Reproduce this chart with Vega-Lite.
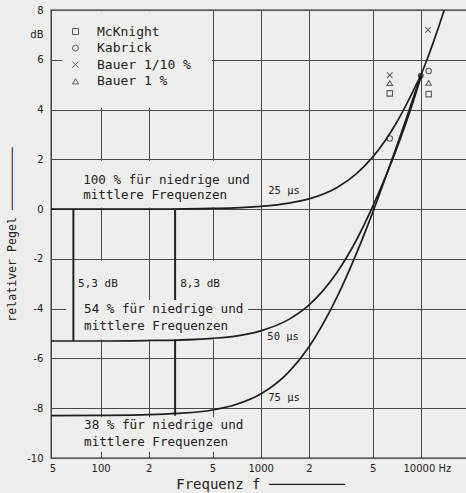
{
  "$schema": "https://vega.github.io/schema/vega-lite/v6.json",
  "width": 418,
  "height": 448,
  "autosize": "none",
  "padding": {"left": 51, "top": 10, "right": 0, "bottom": 35},
  "background": "#eeeeec",
  "config": {"view": {"stroke": "#2a2a2a", "strokeWidth": 1.3}, "font": "DejaVu Sans"},
  "datasets": {
    "one": [{"k": 1}],
    "curves": [
      {"tau": "25 µs", "f": 49, "dB": 0}, {"tau": "25 µs", "f": 100, "dB": 0}, {"tau": "25 µs", "f": 200, "dB": 0},
      {"tau": "25 µs", "f": 500, "dB": 0.03}, {"tau": "25 µs", "f": 700, "dB": 0.05}, {"tau": "25 µs", "f": 1000, "dB": 0.11},
      {"tau": "25 µs", "f": 1500, "dB": 0.24}, {"tau": "25 µs", "f": 2000, "dB": 0.41}, {"tau": "25 µs", "f": 3000, "dB": 0.87},
      {"tau": "25 µs", "f": 4000, "dB": 1.45}, {"tau": "25 µs", "f": 5000, "dB": 2.09}, {"tau": "25 µs", "f": 6000, "dB": 2.76},
      {"tau": "25 µs", "f": 7000, "dB": 3.44}, {"tau": "25 µs", "f": 8000, "dB": 4.12}, {"tau": "25 µs", "f": 9000, "dB": 4.77},
      {"tau": "25 µs", "f": 10000, "dB": 5.38}, {"tau": "25 µs", "f": 11000, "dB": 6.05}, {"tau": "25 µs", "f": 12000, "dB": 6.72},
      {"tau": "25 µs", "f": 13000, "dB": 7.37}, {"tau": "25 µs", "f": 14000, "dB": 8.0},
      {"tau": "50 µs", "f": 49, "dB": -5.3}, {"tau": "50 µs", "f": 100, "dB": -5.3}, {"tau": "50 µs", "f": 200, "dB": -5.28},
      {"tau": "50 µs", "f": 300, "dB": -5.26}, {"tau": "50 µs", "f": 500, "dB": -5.19}, {"tau": "50 µs", "f": 700, "dB": -5.1},
      {"tau": "50 µs", "f": 1000, "dB": -4.89}, {"tau": "50 µs", "f": 1500, "dB": -4.43}, {"tau": "50 µs", "f": 2000, "dB": -3.86},
      {"tau": "50 µs", "f": 3000, "dB": -2.54}, {"tau": "50 µs", "f": 4000, "dB": -1.19}, {"tau": "50 µs", "f": 5000, "dB": 0.1},
      {"tau": "50 µs", "f": 6000, "dB": 1.28}, {"tau": "50 µs", "f": 7000, "dB": 2.36}, {"tau": "50 µs", "f": 8000, "dB": 3.38},
      {"tau": "50 µs", "f": 9000, "dB": 4.35}, {"tau": "50 µs", "f": 10000, "dB": 5.3},
      {"tau": "75 µs", "f": 49, "dB": -8.3}, {"tau": "75 µs", "f": 100, "dB": -8.29}, {"tau": "75 µs", "f": 200, "dB": -8.26},
      {"tau": "75 µs", "f": 300, "dB": -8.21}, {"tau": "75 µs", "f": 500, "dB": -8.07}, {"tau": "75 µs", "f": 700, "dB": -7.85},
      {"tau": "75 µs", "f": 1000, "dB": -7.43}, {"tau": "75 µs", "f": 1500, "dB": -6.54}, {"tau": "75 µs", "f": 2000, "dB": -5.54},
      {"tau": "75 µs", "f": 3000, "dB": -3.53}, {"tau": "75 µs", "f": 4000, "dB": -1.72}, {"tau": "75 µs", "f": 5000, "dB": -0.14},
      {"tau": "75 µs", "f": 6000, "dB": 1.24}, {"tau": "75 µs", "f": 7000, "dB": 2.45}, {"tau": "75 µs", "f": 8000, "dB": 3.52},
      {"tau": "75 µs", "f": 9000, "dB": 4.49}, {"tau": "75 µs", "f": 10000, "dB": 5.36}
    ],
    "measurements": [
      {"source": "McKnight", "f": 6400, "dB": 4.65}, {"source": "McKnight", "f": 11200, "dB": 4.62},
      {"source": "Kabrick", "f": 6400, "dB": 2.84}, {"source": "Kabrick", "f": 11200, "dB": 5.55},
      {"source": "Bauer 1/10 %", "f": 6400, "dB": 5.38}, {"source": "Bauer 1/10 %", "f": 11100, "dB": 7.2},
      {"source": "Bauer 1 %", "f": 6400, "dB": 5.06}, {"source": "Bauer 1 %", "f": 11200, "dB": 5.07}
    ]
  },
  "data": {"name": "one"},
  "layer": [
    {"data": {"name": "curves"},
     "mark": {"type": "line", "interpolate": "monotone", "color": "#4a4a4a", "strokeWidth": 0, "opacity": 0},
     "encoding": {
      "x": {
        "field": "f", "type": "quantitative",
        "scale": {"type": "log", "domain": [49, 20000], "nice": false},
        "axis": {
          "values": [50, 100, 200, 500, 1000, 2000, 5000, 10000, 20000],
          "labelExpr": "datum.value==50||datum.value==500||datum.value==5000?'5':(datum.value==200||datum.value==2000||datum.value==20000?'2':(datum.value==10000?'10000 Hz':(datum.value==100?'100':'1000')))",
          "labelOverlap": false, "labelFlush": false, "ticks": false, "domain": false,
          "grid": true, "gridWidth": 1,
          "gridColor": {"condition": {"test": "datum.value==50||datum.value==20000", "value": "transparent"}, "value": "#4a4a4a"},
          "labelOffset": {"condition": {"test": "datum.value==10000", "value": 6}, "value": 0},
          "labelFont": "DejaVu Sans", "labelFontSize": 10, "labelColor": "#222", "labelPadding": 5,
          "title": "Frequenz f ─────────", "titleFont": "DejaVu Sans Mono", "titleFontSize": 14,
          "titleFontWeight": "normal", "titleColor": "#222", "titlePadding": 4
        }
      },
      "y": {
        "field": "dB", "type": "quantitative",
        "scale": {"domain": [-10, 8], "nice": false, "zero": false},
        "axis": {
          "values": [-10, -8, -6, -4, -2, 0, 2, 4, 6, 7, 8],
          "labelExpr": "datum.value==7?'dB':(datum.value<0?'-'+(-datum.value):''+datum.value)",
          "labelOverlap": false, "labelFlush": false, "ticks": false, "domain": false,
          "grid": true, "gridWidth": 1,
          "gridColor": {"condition": {"test": "datum.value==7||datum.value==8||datum.value==-10", "value": "transparent"}, "value": "#4a4a4a"},
          "labelFont": "DejaVu Sans", "labelFontSize": 10, "labelColor": "#222", "labelPadding": 8,
          "title": "relativer Pegel ─────────", "titleFont": "DejaVu Sans Mono", "titleFontSize": 11.6,
          "titleFontWeight": "normal", "titleColor": "#222", "titlePadding": 9
        }
      },
      "detail": {"field": "tau", "type": "nominal"}
     }},
    {"mark": {"type": "rule", "strokeWidth": 2, "color": "#222"},
     "encoding": {"x": {"datum": 292, "type": "quantitative"}, "y": {"datum": 0, "type": "quantitative"}, "y2": {"datum": -8.3}}},
    {"mark": {"type": "rect", "fill": "#eeeeec"},
     "encoding": {"x": {"datum": 57.5, "type": "quantitative"}, "x2": {"datum": 495}, "y": {"datum": 4.08, "type": "quantitative"}, "y2": {"datum": 7.95}}},
    {"mark": {"type": "rect", "fill": "#eeeeec"},
     "encoding": {"x": {"datum": 51.5, "type": "quantitative"}, "x2": {"datum": 870}, "y": {"datum": 0.06, "type": "quantitative"}, "y2": {"datum": 1.94}}},
    {"mark": {"type": "rect", "fill": "#eeeeec"},
     "encoding": {"x": {"datum": 70.3, "type": "quantitative"}, "x2": {"datum": 136}, "y": {"datum": -2.06, "type": "quantitative"}, "y2": {"datum": -3.72}}},
    {"mark": {"type": "rect", "fill": "#eeeeec"},
     "encoding": {"x": {"datum": 305, "type": "quantitative"}, "x2": {"datum": 591}, "y": {"datum": -2.06, "type": "quantitative"}, "y2": {"datum": -3.72}}},
    {"mark": {"type": "rect", "fill": "#eeeeec"},
     "encoding": {"x": {"datum": 60.8, "type": "quantitative"}, "x2": {"datum": 835}, "y": {"datum": -3.65, "type": "quantitative"}, "y2": {"datum": -5.24}}},
    {"mark": {"type": "rect", "fill": "#eeeeec"},
     "encoding": {"x": {"datum": 51.5, "type": "quantitative"}, "x2": {"datum": 870}, "y": {"datum": -8.36, "type": "quantitative"}, "y2": {"datum": -9.75}}},
    {"mark": {"type": "rule", "strokeWidth": 2, "color": "#222"},
     "encoding": {"x": {"datum": 67.6, "type": "quantitative"}, "y": {"datum": 0, "type": "quantitative"}, "y2": {"datum": -5.3}}},
    {"data": {"name": "curves"},
     "mark": {"type": "line", "interpolate": "monotone", "color": "#1e1e1e", "strokeWidth": 1.7, "clip": true},
     "encoding": {
       "x": {"field": "f", "type": "quantitative"},
       "y": {"field": "dB", "type": "quantitative"},
       "detail": {"field": "tau", "type": "nominal"}}},
    {"data": {"name": "measurements"},
     "mark": {"type": "point", "filled": false, "size": 30, "strokeWidth": 1.1, "color": "#222"},
     "encoding": {
       "x": {"field": "f", "type": "quantitative"},
       "y": {"field": "dB", "type": "quantitative"},
       "shape": {"field": "source", "type": "nominal",
         "scale": {"domain": ["McKnight", "Kabrick", "Bauer 1/10 %", "Bauer 1 %"], "range": ["square", "circle", "M-1,-1L1,1M-1,1L1,-1", "triangle-up"]},
         "legend": {"orient": "none", "legendX": 18, "legendY": 15, "title": null, "symbolSize": 36,
           "symbolStrokeColor": "#222", "symbolStrokeWidth": 1, "symbolFillColor": "transparent",
           "labelFont": "DejaVu Sans Mono", "labelFontSize": 13, "labelColor": "#222", "labelOffset": 15,
           "rowPadding": 2.6, "padding": 0}}
     }},
    {"mark": {"type": "point", "filled": true, "size": 35, "color": "#111"},
     "encoding": {"x": {"datum": 10000, "type": "quantitative"}, "y": {"datum": 5.36, "type": "quantitative"}}},
    {"mark": {"type": "text", "align": "left", "baseline": "middle", "font": "DejaVu Sans Mono", "fontSize": 12.6, "color": "#222"},
     "encoding": {"x": {"datum": 77.8, "type": "quantitative"}, "y": {"datum": 1.16, "type": "quantitative"}, "text": {"value": "100 % für niedrige und"}}},
    {"mark": {"type": "text", "align": "left", "baseline": "middle", "font": "DejaVu Sans Mono", "fontSize": 12.6, "color": "#222"},
     "encoding": {"x": {"datum": 77.8, "type": "quantitative"}, "y": {"datum": 0.56, "type": "quantitative"}, "text": {"value": "mittlere Frequenzen"}}},
    {"mark": {"type": "text", "align": "left", "baseline": "middle", "font": "DejaVu Sans Mono", "fontSize": 11, "color": "#222"},
     "encoding": {"x": {"datum": 72.3, "type": "quantitative"}, "y": {"datum": -3.0, "type": "quantitative"}, "text": {"value": "5,3 dB"}}},
    {"mark": {"type": "text", "align": "left", "baseline": "middle", "font": "DejaVu Sans Mono", "fontSize": 11, "color": "#222"},
     "encoding": {"x": {"datum": 314, "type": "quantitative"}, "y": {"datum": -3.0, "type": "quantitative"}, "text": {"value": "8,3 dB"}}},
    {"mark": {"type": "text", "align": "left", "baseline": "middle", "font": "DejaVu Sans Mono", "fontSize": 12.6, "color": "#222"},
     "encoding": {"x": {"datum": 78.9, "type": "quantitative"}, "y": {"datum": -4.02, "type": "quantitative"}, "text": {"value": "54 % für niedrige und"}}},
    {"mark": {"type": "text", "align": "left", "baseline": "middle", "font": "DejaVu Sans Mono", "fontSize": 12.6, "color": "#222"},
     "encoding": {"x": {"datum": 78.9, "type": "quantitative"}, "y": {"datum": -4.7, "type": "quantitative"}, "text": {"value": "mittlere Frequenzen"}}},
    {"mark": {"type": "text", "align": "left", "baseline": "middle", "font": "DejaVu Sans Mono", "fontSize": 12.6, "color": "#222"},
     "encoding": {"x": {"datum": 78.9, "type": "quantitative"}, "y": {"datum": -8.67, "type": "quantitative"}, "text": {"value": "38 % für niedrige und"}}},
    {"mark": {"type": "text", "align": "left", "baseline": "middle", "font": "DejaVu Sans Mono", "fontSize": 12.6, "color": "#222"},
     "encoding": {"x": {"datum": 78.9, "type": "quantitative"}, "y": {"datum": -9.36, "type": "quantitative"}, "text": {"value": "mittlere Frequenzen"}}},
    {"mark": {"type": "text", "align": "left", "baseline": "middle", "font": "DejaVu Sans Mono", "fontSize": 10.5, "color": "#222"},
     "encoding": {"x": {"datum": 1114, "type": "quantitative"}, "y": {"datum": 0.72, "type": "quantitative"}, "text": {"value": "25 µs"}}},
    {"mark": {"type": "text", "align": "left", "baseline": "middle", "font": "DejaVu Sans Mono", "fontSize": 10.5, "color": "#222"},
     "encoding": {"x": {"datum": 1100, "type": "quantitative"}, "y": {"datum": -5.14, "type": "quantitative"}, "text": {"value": "50 µs"}}},
    {"mark": {"type": "text", "align": "left", "baseline": "middle", "font": "DejaVu Sans Mono", "fontSize": 10.5, "color": "#222"},
     "encoding": {"x": {"datum": 1114, "type": "quantitative"}, "y": {"datum": -7.59, "type": "quantitative"}, "text": {"value": "75 µs"}}}
  ]
}
